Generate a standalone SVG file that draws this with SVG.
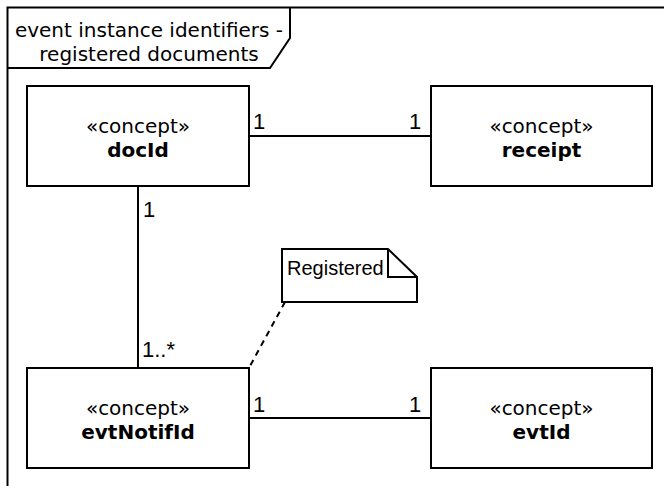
<svg xmlns="http://www.w3.org/2000/svg" width="664" height="486" viewBox="0 0 664 486">
  <style>
    .line { fill: none; stroke: #000; stroke-width: 2; }
    .box { fill: #fff; stroke: #000; stroke-width: 2; }
    .v { font-family: "DejaVu Sans", Verdana, sans-serif; font-size: 20px; fill: #000; text-anchor: middle; }
    .b { font-weight: bold; }
    .h { font-family: "Liberation Sans", Arial, sans-serif; font-size: 20px; fill: #000; }
    .m { font-family: "Liberation Sans", Arial, sans-serif; font-size: 22px; fill: #000; }
  </style>
  <rect width="664" height="486" fill="#fff"/>

  <!-- frame -->
  <g id="frame">
    <rect class="line" x="7.5" y="7.5" width="720" height="540"/>
    <path class="line" d="M7.5 68 H270 L290 38 V7.5"/>
    <text class="v" x="149" y="37">event instance identifiers -</text>
    <text class="v" x="149" y="61">registered documents</text>
  </g>

  <!-- connectors -->
  <g id="connectors">
    <line class="line" x1="249" y1="136" x2="431" y2="136"/>
    <line class="line" x1="138" y1="186" x2="138" y2="368"/>
    <line class="line" x1="249" y1="418" x2="431" y2="418"/>
    <line class="line" x1="285" y1="302" x2="250" y2="366" stroke-dasharray="6,5"/>
    <text class="m" x="253" y="129">1</text>
    <text class="m" x="409" y="129">1</text>
    <text class="m" x="143" y="217">1</text>
    <text class="m" x="142" y="357">1..*</text>
    <text class="m" x="253" y="412">1</text>
    <text class="m" x="409" y="412">1</text>
  </g>

  <g id="docId">
    <rect class="box" x="27" y="86" width="222" height="100"/>
    <text class="v" x="138" y="133">«concept»</text>
    <text class="v b" x="138" y="157">docId</text>
  </g>

  <g id="receipt">
    <rect class="box" x="431" y="86" width="221" height="100"/>
    <text class="v" x="541.5" y="133">«concept»</text>
    <text class="v b" x="541.5" y="157">receipt</text>
  </g>

  <g id="evtNotifId">
    <rect class="box" x="27" y="368" width="222" height="100"/>
    <text class="v" x="138" y="415">«concept»</text>
    <text class="v b" x="138" y="439">evtNotifId</text>
  </g>

  <g id="evtId">
    <rect class="box" x="431" y="368" width="221" height="100"/>
    <text class="v" x="541.5" y="415">«concept»</text>
    <text class="v b" x="541.5" y="439">evtId</text>
  </g>

  <g id="note-registered">
    <path class="box" d="M282 249 H388 L417 277 V302 H282 Z"/>
    <path class="line" d="M388 249 V277 H417"/>
    <text class="h" x="287" y="275">Registered</text>
  </g>
</svg>
